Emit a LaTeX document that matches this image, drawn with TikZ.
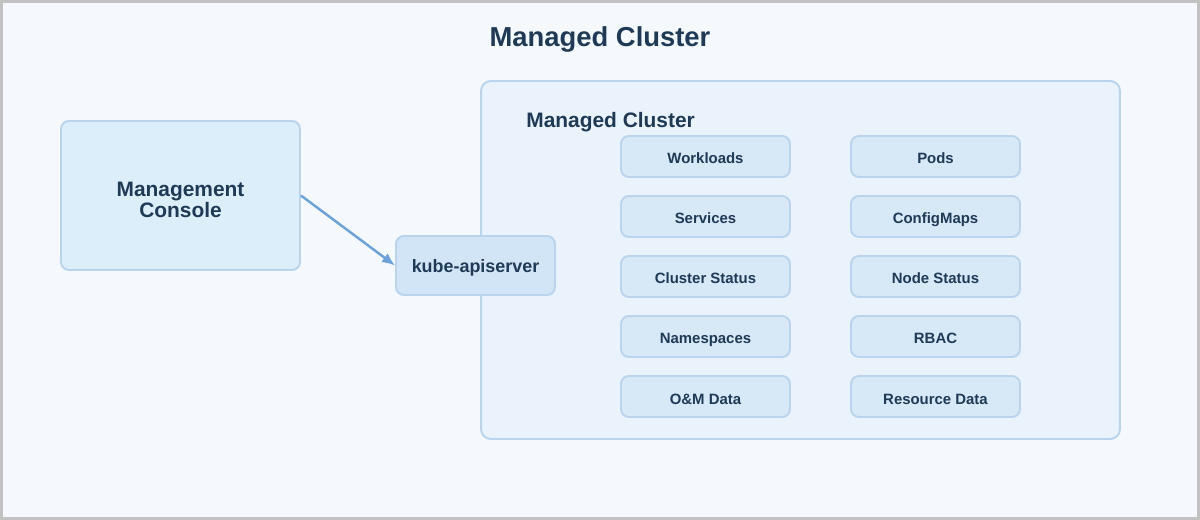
\documentclass[tikz,border=0pt]{standalone}
\usepackage{fontspec}
\setmainfont{Liberation Sans}
\usetikzlibrary{arrows.meta}
\definecolor{pagebg}{HTML}{F5F9FE}
\definecolor{frame}{HTML}{C2C2C2}
\definecolor{ink}{HTML}{1E3A56}
\definecolor{edge}{HTML}{B9D4EC}
\definecolor{consolefill}{HTML}{DDEEFB}
\definecolor{apifill}{HTML}{D2E5F6}
\definecolor{clusterfill}{HTML}{EAF2FB}
\definecolor{itemfill}{HTML}{D7E8F7}
\definecolor{link}{HTML}{6CA2DA}

\begin{document}
\begin{tikzpicture}[x=0.02cm, y=-0.02cm, every node/.style={font=\bfseries, text=ink}, >={Latex[length=2.6mm, width=2.2mm]},
  box/.style={draw=edge, line width=1.1pt, rounded corners=4.5pt, align=center, inner sep=0pt},
  item/.style={box, fill=itemfill, minimum width=3.38cm, minimum height=0.82cm, text height=0.3cm, text depth=0pt, font=\bfseries\fontsize{8.5}{10}\selectfont}]
	\useasboundingbox (0,0) rectangle (1200,520);
	\fill[pagebg] (0,0) rectangle (1200,520);
	\draw[frame, line width=0.06cm] (1.5,1.5) rectangle (1198.5,518.5);
	\node[anchor=base, font=\bfseries\fontsize{15.6}{18}\selectfont] (title) at (600,47) {Managed Cluster};
	\node[box, fill=clusterfill, rounded corners=5.5pt, minimum width=12.78cm, minimum height=7.16cm] (cluster) at (800.5,260) {};
	\node[anchor=base west, inner sep=0pt, font=\bfseries\fontsize{11.9}{14}\selectfont] (clusterlabel) at (526,128) {Managed Cluster};
	\node[box, fill=consolefill, minimum width=4.78cm, minimum height=2.98cm, text height=0.88cm, text depth=0pt, font=\bfseries\fontsize{11.9}{11.9}\selectfont] (console) at (180.5,195.5) {Management\\ Console};
	\node[box, fill=apifill, minimum width=3.18cm, minimum height=1.18cm, text height=0.28cm, text depth=0pt, font=\bfseries\fontsize{10.2}{12}\selectfont] (apiserver) at (475.5,265.5) {kube-apiserver};
	\draw[->, link, line width=1.4pt] (console.east) -- (apiserver.west);
	\node[item] (workloads) at (705.5,156.5) {Workloads};
	\node[item] (pods) at (935.5,156.5) {Pods};
	\node[item] (services) at (705.5,216.5) {Services};
	\node[item] (configmaps) at (935.5,216.5) {ConfigMaps};
	\node[item] (clusterstatus) at (705.5,276.5) {Cluster Status};
	\node[item] (nodestatus) at (935.5,276.5) {Node Status};
	\node[item] (namespaces) at (705.5,336.5) {Namespaces};
	\node[item] (rbac) at (935.5,336.5) {RBAC};
	\node[item] (omdata) at (705.5,396.5) {O\&M Data};
	\node[item] (resourcedata) at (935.5,396.5) {Resource Data};
\end{tikzpicture}
\end{document}
